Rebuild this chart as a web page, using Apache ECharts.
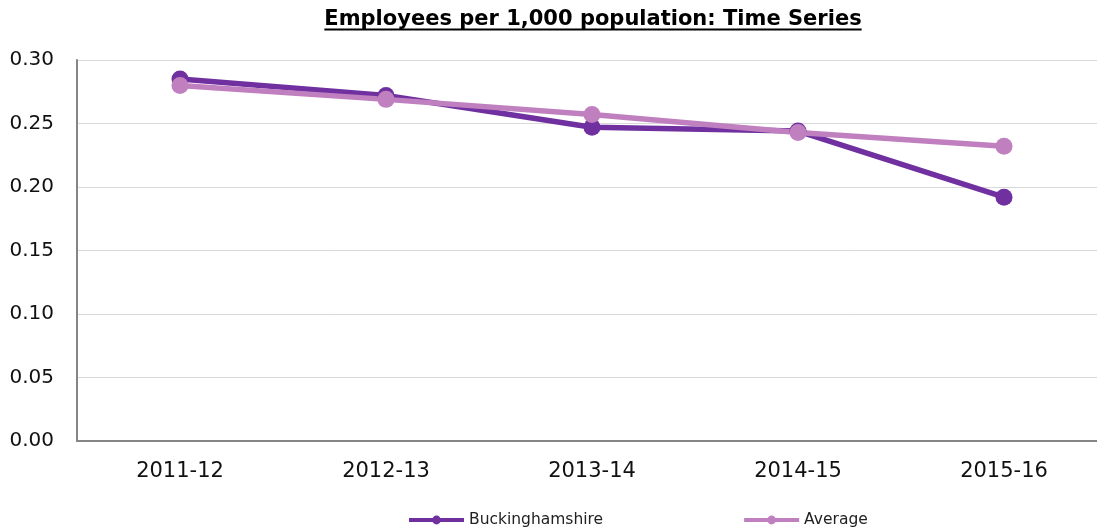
<!DOCTYPE html>
<html><head><meta charset="utf-8">
<script src="https://cdn.jsdelivr.net/npm/echarts@6/dist/echarts.min.js"></script>
<style>html,body{margin:0;padding:0;background:#fff;overflow:hidden}#c{width:1110px;height:531px}</style>
</head><body><div id="c"></div>
<script>
const categories = ['2011-12','2012-13','2013-14','2014-15','2015-16'];
const buckinghamshire = [0.285, 0.272, 0.247, 0.244, 0.192];
const average = [0.280, 0.269, 0.257, 0.243, 0.232];
const yTickLabels = ['0.00','0.05','0.10','0.15','0.20','0.25','0.30'];
const titleText = 'Employees per 1,000 population: Time Series';
const FONT = '"DejaVu Sans", Verdana, sans-serif';

const chart = echarts.init(document.getElementById('c'), null, {renderer:'canvas'});
const cv = document.createElement('canvas').getContext('2d');
cv.font = 'bold 21px ' + FONT;
const tw = cv.measureText(titleText).width;
const tcx = 593;

chart.setOption({
  animation:false,
  backgroundColor:'#fff',
  title:{text:titleText,left:tcx,top:9,textAlign:'center',padding:0,
    textStyle:{fontFamily:FONT,fontSize:21,fontWeight:'bold',color:'#000'}},
  graphic:[{type:'line',shape:{x1:tcx-tw/2,y1:29.5,x2:tcx+tw/2,y2:29.5},style:{stroke:'#000',lineWidth:2}}],
  grid:{left:77,right:3,top:60,bottom:90,containLabel:false},
  legend:{left:407,top:512,padding:0,itemGap:139,itemWidth:55,itemHeight:11,
    lineStyle:{width:4},
    textStyle:{fontFamily:FONT,fontSize:15.5,color:'#222'},
    data:['Buckinghamshire','Average']},
  xAxis:{type:'category',data:categories,boundaryGap:true,
    axisLine:{lineStyle:{color:'#868686',width:2}},axisTick:{show:false},
    axisLabel:{fontFamily:FONT,fontSize:21,color:'#111',margin:20}},
  yAxis:{type:'value',min:0,max:0.3,interval:0.05,
    axisLine:{show:true,lineStyle:{color:'#868686',width:2}},axisTick:{show:false},
    splitLine:{lineStyle:{color:'#d9d9d9',width:1}},
    axisLabel:{fontFamily:FONT,fontSize:20,color:'#111',margin:23,
      formatter:(v)=>yTickLabels[Math.round(v/0.05)]}},
  series:[
    {name:'Buckinghamshire',type:'line',data:buckinghamshire,color:'#7030a0',
     symbol:'circle',symbolSize:17,lineStyle:{width:5.5,color:'#7030a0'},itemStyle:{color:'#7030a0'}},
    {name:'Average',type:'line',data:average,color:'#c080c0',
     symbol:'circle',symbolSize:17,lineStyle:{width:5.5,color:'#c080c0'},itemStyle:{color:'#c080c0'}}
  ]
});
</script></body></html>
